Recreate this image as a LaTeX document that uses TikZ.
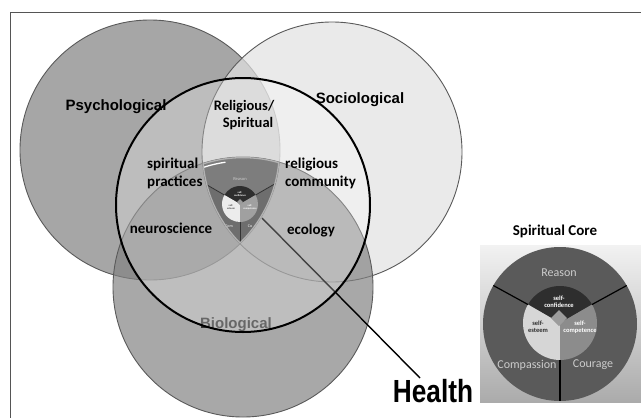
\documentclass[tikz,border=0pt]{standalone}
\usepackage{fontspec}
\newfontfamily\arialfont{Liberation Sans}
\newfontfamily\calfont{Carlito}
\usetikzlibrary{calc}
\definecolor{framecol}{HTML}{555555}
\definecolor{circline}{HTML}{5A5A5A}
\definecolor{psychfill}{HTML}{A6A6A6}
\definecolor{sociofill}{HTML}{E2E2E2}
\definecolor{biofill}{HTML}{828282}
\definecolor{insettop}{HTML}{F2F2F2}
\definecolor{insetbot}{HTML}{ABABAB}
\definecolor{ringgray}{HTML}{5A5A5A}
\definecolor{confcol}{HTML}{2E2E2E}
\definecolor{esteemcol}{HTML}{D6D6D6}
\definecolor{compcol}{HTML}{8C8C8C}
\definecolor{diamcol}{HTML}{9C9C9C}
\definecolor{ringtext}{HTML}{CCCCCC}
\definecolor{minisides}{HTML}{6E6E6E}
\definecolor{minireason}{HTML}{7D7D7D}
\definecolor{miniesteem}{HTML}{ECECEC}
\definecolor{minicomp}{HTML}{A0A0A0}
\definecolor{biotext}{HTML}{333333}
\begin{document}
\begin{tikzpicture}[x=1pt,y=-1pt,
  ringline/.style={line width=0.9pt, draw=circline},
  arlab/.style={font=\arialfont\bfseries\fontsize{15}{18}\selectfont, inner sep=0pt},
  calab/.style={font=\calfont\bfseries\fontsize{15}{18}\selectfont, inner sep=0pt, align=left},
  ringlab/.style={font=\calfont\fontsize{12}{14}\selectfont, inner sep=0pt, text=ringtext},
  smalllab/.style={font=\calfont\bfseries\fontsize{6.5}{7}\selectfont, inner sep=0pt, align=center},
  tinylab/.style={font=\calfont\bfseries\fontsize{2.6}{3}\selectfont, inner sep=0pt, align=center},
  divline/.style={black, line width=1.2pt},
]
\useasboundingbox (0,0) rectangle (641,418);
\fill[white] (0,0) rectangle (641,418);
\draw[framecol, line width=1pt] (641,12) -- (10,12) -- (10,418);

\coordinate (P) at (150,150);
\coordinate (S) at (332,152);
\coordinate (B) at (243,287);
\coordinate (H) at (243,205);
\coordinate (M) at (240,204);

% three domain circles
\filldraw[fill=psychfill, ringline] (P) circle[radius=130pt];
\filldraw[fill=sociofill, fill opacity=0.71, ringline] (S) circle[radius=130pt];
\filldraw[fill=biofill, fill opacity=0.69, ringline] (B) circle[radius=130pt];

\node[arlab, text=biotext] (bio) at (236,325) {Biological};

% Health connector
\node[font=\arialfont\bfseries\fontsize{32}{36}\selectfont, inner sep=0pt] (health) at (433,391) {\scalebox{0.82}[1]{Health}};
\coordinate (hs) at (262,218);
\coordinate (he) at (420,378);
\draw[black, line width=1.4pt] (hs) -- (he);

% health circle
\filldraw[fill=white, fill opacity=0.26, draw=black, line width=2pt] (H) circle[radius=127pt];

% mini spiritual core in the triple intersection
\begin{scope}
  \clip (P) circle[radius=130pt];
  \clip (S) circle[radius=130pt];
  \clip (B) circle[radius=130pt];
  \fill[minisides] (190,140) rectangle (290,250);
  \fill[minireason] (M) -- ($(M)+(30:70pt)$) -- ($(M)+(90:70pt)$) -- ($(M)+(150:70pt)$) -- cycle;
  \draw[white, line width=1.3pt] ($(B)+(98:126pt)$) arc[start angle=98, end angle=109, radius=126pt];
  \fill[confcol] (M) -- ($(M)+(30:18pt)$) arc[start angle=30, end angle=150, radius=18pt] -- cycle;
  \fill[miniesteem] (M) -- ($(M)+(150:18pt)$) arc[start angle=150, end angle=270, radius=18pt] -- cycle;
  \fill[minicomp] (M) -- ($(M)+(270:18pt)$) arc[start angle=270, end angle=390, radius=18pt] -- cycle;
  \fill[diamcol] ($(M)+(0,-5)$) -- ($(M)+(3,-2)$) -- ($(M)+(0,1)$) -- ($(M)+(-3,-2)$) -- cycle;
  \draw[black!80, line width=0.8pt] ($(M)+(150:18pt)$) -- ($(M)+(150:70pt)$);
  \draw[black!80, line width=0.8pt] ($(M)+(30:18pt)$) -- ($(M)+(30:70pt)$);
  \draw[black!80, line width=0.8pt] ($(M)+(270:18pt)$) -- ($(M)+(270:70pt)$);
  \node[font=\calfont\fontsize{4.5}{5}\selectfont, inner sep=0pt, text=ringtext] (mreason) at (240,179) {Reason};
  \node[tinylab, text=white] (mconf) at (240,194) {self-\\confidence};
  \node[tinylab, text=black!70] (mest) at (231,207) {self-\\esteem};
  \node[tinylab, text=white] (mcomp) at (250,207) {self-\\competence};
  \node[font=\calfont\fontsize{4}{5}\selectfont, inner sep=0pt, text=white] (mcom) at (229,226) {Com};
  \node[font=\calfont\fontsize{4}{5}\selectfont, inner sep=0pt, text=white] (mco) at (250,226) {Co};
  \draw[gray!60, line width=2.6pt] (P) circle[radius=130pt] (S) circle[radius=130pt] (B) circle[radius=130pt];
\end{scope}

% labels
\node[arlab] (psy) at (116,107) {Psychological};
\node[arlab] (soc) at (360,100) {Sociological};
\node[calab, align=center, font=\calfont\bfseries\fontsize{14.5}{17}\selectfont] (rs) at (244,115) {Religious/\\\hspace*{8pt}Spiritual};
\node[calab, anchor=west] (sp) at (147,173) {spiritual\\practices};
\node[calab, anchor=west] (rc) at (285,173) {religious\\community};
\node[calab] (neuro) at (171,228) {neuroscience};
\node[calab] (eco) at (311,231) {ecology};

% inset: Spiritual Core
\node[font=\calfont\bfseries\fontsize{15}{18}\selectfont, inner sep=0pt] (sctitle) at (555,231) {Spiritual Core};
\shade[top color=insettop, bottom color=insetbot] (480,245) rectangle (641,402);
\coordinate (C) at (560,324);
\coordinate (Ci) at (560,323);
\fill[ringgray] (C) circle[radius=77pt];
\fill[confcol] (Ci) -- ($(Ci)+(30:37pt)$) arc[start angle=30, end angle=150, radius=37pt] -- cycle;
\fill[esteemcol] (Ci) -- ($(Ci)+(150:37pt)$) arc[start angle=150, end angle=270, radius=37pt] -- cycle;
\fill[compcol] (Ci) -- ($(Ci)+(270:37pt)$) arc[start angle=270, end angle=390, radius=37pt] -- cycle;
\fill[diamcol] (559,310) -- (567,318) -- (559,326) -- (551,318) -- cycle;
\draw[divline] ($(Ci)+(150:37pt)$) -- ($(C)+(150:77pt)$);
\draw[divline] ($(Ci)+(30:37pt)$) -- ($(C)+(30:77pt)$);
\draw[divline] ($(Ci)+(270:37pt)$) -- ($(C)+(270:77pt)$);
\node[ringlab] (reason) at (559,273) {Reason};
\node[ringlab] (compassion) at (527,365) {Compassion};
\node[ringlab] (courage) at (593,365) {Courage};
\node[smalllab, text=white] (conf) at (559,302) {self-\\confidence};
\node[smalllab, text=confcol] (esteem) at (538,327) {self-\\esteem};
\node[smalllab, text=white] (comp) at (580,327) {self-\\competence};
\end{tikzpicture}
\end{document}
